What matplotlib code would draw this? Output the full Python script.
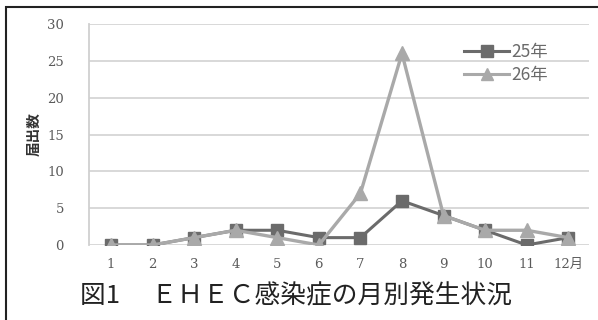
import matplotlib.pyplot as plt
from matplotlib.lines import Line2D

plt.rcParams['font.family'] = ['Noto Sans CJK JP', 'DejaVu Sans']

# monthly EHEC notifications
months = ['1', '2', '3', '4', '5', '6', '7', '8', '9', '10', '11', '12月']
h25 = [0, 0, 1, 2, 2, 1, 1, 6, 4, 2, 0, 1]
h26 = [0, 0, 1, 2, 1, 0, 7, 26, 4, 2, 2, 1]
series_names = ['25年', '26年']

c25 = '#6b6b6b'
c26 = '#a9a9a9'

fig = plt.figure(figsize=(5.98, 3.2), dpi=100)
ax = fig.add_axes([89 / 598, 1 - 245 / 320, 500 / 598, 221 / 320])

x = list(range(len(months)))
ax.plot(x, h25, color=c25, lw=2.2, marker='s', ms=9, mec=c25, mfc=c25, zorder=3)
ax.plot(x, h26, color=c26, lw=2.4, marker='^', ms=10, mec=c26, mfc=c26, zorder=4)

ax.set_xlim(-0.53, 11.5)
ax.set_ylim(0, 30)
ax.set_yticks(range(0, 31, 5))
ax.set_xticks(x)
ax.set_xticklabels(months)
ax.yaxis.grid(True, color='#d6d6d6', lw=1.3)
ax.set_axisbelow(True)
for side in ['top', 'right', 'bottom']:
    ax.spines[side].set_visible(False)
ax.spines['left'].set_color('#d0d0d0')
ax.spines['left'].set_linewidth(1.3)
ax.tick_params(length=0, labelsize=9.5, colors='#5a5a5a', pad=9)
for lab in ax.get_xticklabels() + ax.get_yticklabels():
    lab.set_family(['DejaVu Serif', 'Noto Sans CJK JP'])
ax.tick_params(axis='y', pad=18)

ax.set_ylabel('届出数', fontsize=10.5, fontweight='bold', color='#333333')
ax.yaxis.set_label_coords(-0.094, 0.5)

handles = [Line2D([], [], color=c25, lw=2.2, marker='s', ms=8),
           Line2D([], [], color=c26, lw=2.2, marker='^', ms=8)]
leg = ax.legend(handles, series_names, loc='upper right', bbox_to_anchor=(0.95, 0.985),
                frameon=False, fontsize=12.5, handlelength=2.6, handletextpad=0.15,
                labelspacing=0.3, labelcolor='#6a6a6a')

# outer frame
fig.add_artist(plt.Rectangle((6 / 598, -0.1), 1.0, 1 - 7 / 320 + 0.1,
                             transform=fig.transFigure, fill=False,
                             edgecolor='#222222', lw=1.5))

fig.text(80 / 598, 1 - 296 / 320, '図1　 ＥＨＥＣ感染症の月別発生状況',
         fontsize=18.5, color='#222222', va='center', ha='left')

fig.savefig('out.png', dpi=100)
